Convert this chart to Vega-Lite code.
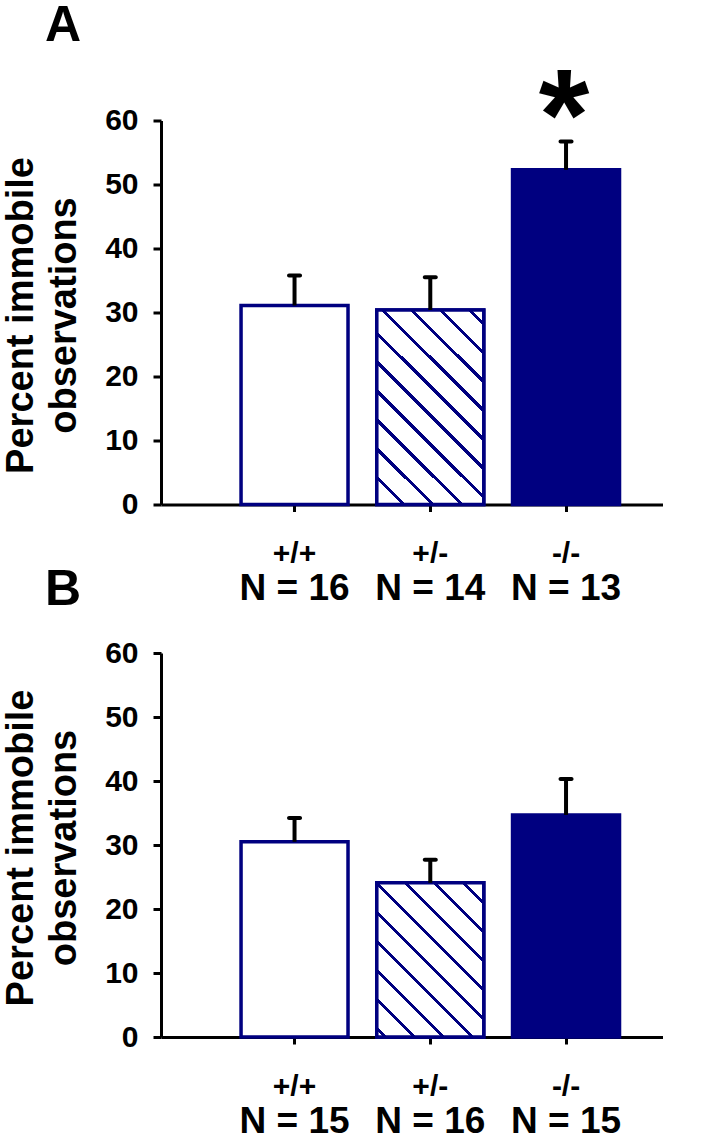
{
  "$schema": "https://vega.github.io/schema/vega-lite/v6.json",
  "padding": {"left": 1, "top": 0.5, "right": 0, "bottom": 0},
  "bounds": "flush",
  "spacing": 148.5,
  "config": {
    "font": "Liberation Sans",
    "view": {"stroke": null},
    "title": {"fontSize": 50, "fontWeight": "bold", "anchor": "start", "frame": "group", "color": "black", "baseline": "alphabetic"}
  },
  "vconcat": [
    {
      "title": {"text": "A", "dx": -116, "offset": 5.5},
      "width": 502,
      "height": 384,
      "data": {"values": [
        {"genotype": "+/+", "nlabel": "N = 16", "mean": 31.1, "upper": 35.8, "sig": ""},
        {"genotype": "+/-", "nlabel": "N = 14", "mean": 30.4, "upper": 35.5, "sig": ""},
        {"genotype": "-/-", "nlabel": "N = 13", "mean": 52.3, "upper": 56.7, "sig": "*"}
      ]},
      "resolve": {"scale": {"x": "independent"}, "axis": {"x": "independent"}},
      "layer": [
        {
          "mark": {"type": "bar", "stroke": "#000080", "strokeWidth": 3.5},
          "encoding": {
            "x": {"field": "genotype", "type": "nominal", "sort": null,
              "scale": {"domain": ["+/+", "+/-", "-/-"], "paddingInner": 0.212, "paddingOuter": 0.455, "align": 0.648},
              "axis": {"title": null, "orient": "bottom", "domainColor": "black", "domainWidth": 3, "tickColor": "black", "tickWidth": 3, "tickSize": 7,
                "labelFontSize": 30, "labelFontWeight": "bold", "labelColor": "black", "labelAngle": 0, "labelPadding": 26.5, "labelBaseline": "top"}},
            "y": {"field": "mean", "type": "quantitative", "scale": {"domain": [0, 60], "nice": false},
              "axis": {"title": ["Percent immobile", "observations"], "values": [0, 10, 20, 30, 40, 50, 60], "grid": false,
                "domainColor": "black", "domainWidth": 3, "tickColor": "black", "tickWidth": 3, "tickSize": 8,
                "labelFontSize": 30, "labelFontWeight": "bold", "labelColor": "black", "labelPadding": 15,
                "titleFontSize": 38, "titleFontWeight": "bold", "titleColor": "black", "titleLineHeight": 43,
                "titleX": -129, "titleY": 194.5, "titleAngle": -90, "titleBaseline": "alphabetic", "titleAlign": "center"}},
            "fill": {"condition": {"test": "datum.genotype === '-/-'", "value": "#000080"}, "value": "white"}
          }
        },
        {
          "transform": [{"filter": "datum.genotype === '+/-'"}],
          "mark": {"type": "bar", "stroke": "#000080", "strokeWidth": 3.5,
            "fill": {"gradient": "linear", "x1": 0, "y1": 1, "x2": 0.6526, "y2": -0.1905, "stops": [
              {"offset": 0, "color": "white"},
              {"offset": 0.0821, "color": "white"}, {"offset": 0.0821, "color": "#000080"}, {"offset": 0.0966, "color": "#000080"}, {"offset": 0.0966, "color": "white"},
              {"offset": 0.1780, "color": "white"}, {"offset": 0.1780, "color": "#000080"}, {"offset": 0.1926, "color": "#000080"}, {"offset": 0.1926, "color": "white"},
              {"offset": 0.2740, "color": "white"}, {"offset": 0.2740, "color": "#000080"}, {"offset": 0.2885, "color": "#000080"}, {"offset": 0.2885, "color": "white"},
              {"offset": 0.3700, "color": "white"}, {"offset": 0.3700, "color": "#000080"}, {"offset": 0.3845, "color": "#000080"}, {"offset": 0.3845, "color": "white"},
              {"offset": 0.4659, "color": "white"}, {"offset": 0.4659, "color": "#000080"}, {"offset": 0.4805, "color": "#000080"}, {"offset": 0.4805, "color": "white"},
              {"offset": 0.5619, "color": "white"}, {"offset": 0.5619, "color": "#000080"}, {"offset": 0.5764, "color": "#000080"}, {"offset": 0.5764, "color": "white"},
              {"offset": 0.6578, "color": "white"}, {"offset": 0.6578, "color": "#000080"}, {"offset": 0.6724, "color": "#000080"}, {"offset": 0.6724, "color": "white"},
              {"offset": 0.7538, "color": "white"}, {"offset": 0.7538, "color": "#000080"}, {"offset": 0.7684, "color": "#000080"}, {"offset": 0.7684, "color": "white"},
              {"offset": 0.8498, "color": "white"}, {"offset": 0.8498, "color": "#000080"}, {"offset": 0.8643, "color": "#000080"}, {"offset": 0.8643, "color": "white"},
              {"offset": 0.9457, "color": "white"}, {"offset": 0.9457, "color": "#000080"}, {"offset": 0.9603, "color": "#000080"}, {"offset": 0.9603, "color": "white"},
              {"offset": 1, "color": "white"}
            ]}},
          "encoding": {
            "x": {"field": "genotype", "type": "nominal", "sort": null,
              "scale": {"domain": ["+/+", "+/-", "-/-"], "paddingInner": 0.212, "paddingOuter": 0.455, "align": 0.648}, "axis": null},
            "y": {"field": "mean", "type": "quantitative"}
          }
        },
        {
          "mark": {"type": "rule", "color": "black", "strokeWidth": 4},
          "encoding": {
            "x": {"field": "nlabel", "type": "nominal", "sort": null,
              "scale": {"domain": ["N = 16", "N = 14", "N = 13"], "paddingInner": 0.212, "paddingOuter": 0.455, "align": 0.648},
              "axis": {"title": null, "orient": "bottom", "domain": false, "ticks": false, "tickSize": 0,
                "labelFontSize": 37, "labelFontWeight": "bold", "labelColor": "black", "labelAngle": 0, "labelPadding": 66, "labelBaseline": "top"}},
            "y": {"field": "mean", "type": "quantitative"},
            "y2": {"field": "upper"}
          }
        },
        {
          "mark": {"type": "tick", "color": "black", "size": 15, "thickness": 4, "cornerRadius": 2, "opacity": 1},
          "encoding": {
            "x": {"field": "nlabel", "type": "nominal", "sort": null,
              "scale": {"domain": ["N = 16", "N = 14", "N = 13"], "paddingInner": 0.212, "paddingOuter": 0.455, "align": 0.648}, "axis": null},
            "y": {"field": "upper", "type": "quantitative"}
          }
        },
        {
          "mark": {"type": "text", "fontSize": 130, "fontWeight": "bold", "color": "black", "baseline": "alphabetic", "align": "center", "dx": -40, "dy": 18.6},
          "encoding": {
            "x": {"field": "nlabel", "type": "nominal", "sort": null,
              "scale": {"domain": ["N = 16", "N = 14", "N = 13"], "paddingInner": 0.212, "paddingOuter": 0.455, "align": 0.648}, "axis": null},
            "y": {"field": "upper", "type": "quantitative"},
            "text": {"field": "sig"}
          }
        }
      ]
    },
    {
      "title": {"text": "B", "dx": -116, "offset": 23},
      "width": 502,
      "height": 384,
      "data": {"values": [
        {"genotype": "+/+", "nlabel": "N = 15", "mean": 30.5, "upper": 34.2},
        {"genotype": "+/-", "nlabel": "N = 16", "mean": 24.1, "upper": 27.7},
        {"genotype": "-/-", "nlabel": "N = 15 ", "mean": 34.7, "upper": 40.3}
      ]},
      "resolve": {"scale": {"x": "independent"}, "axis": {"x": "independent"}},
      "layer": [
        {
          "mark": {"type": "bar", "stroke": "#000080", "strokeWidth": 3.5},
          "encoding": {
            "x": {"field": "genotype", "type": "nominal", "sort": null,
              "scale": {"domain": ["+/+", "+/-", "-/-"], "paddingInner": 0.212, "paddingOuter": 0.455, "align": 0.648},
              "axis": {"title": null, "orient": "bottom", "domainColor": "black", "domainWidth": 3, "tickColor": "black", "tickWidth": 3, "tickSize": 7,
                "labelFontSize": 30, "labelFontWeight": "bold", "labelColor": "black", "labelAngle": 0, "labelPadding": 27, "labelBaseline": "top"}},
            "y": {"field": "mean", "type": "quantitative", "scale": {"domain": [0, 60], "nice": false},
              "axis": {"title": ["Percent immobile", "observations"], "values": [0, 10, 20, 30, 40, 50, 60], "grid": false,
                "domainColor": "black", "domainWidth": 3, "tickColor": "black", "tickWidth": 3, "tickSize": 8,
                "labelFontSize": 30, "labelFontWeight": "bold", "labelColor": "black", "labelPadding": 15,
                "titleFontSize": 38, "titleFontWeight": "bold", "titleColor": "black", "titleLineHeight": 43,
                "titleX": -129, "titleY": 194.5, "titleAngle": -90, "titleBaseline": "alphabetic", "titleAlign": "center"}},
            "fill": {"condition": {"test": "datum.genotype === '-/-'", "value": "#000080"}, "value": "white"}
          }
        },
        {
          "transform": [{"filter": "datum.genotype === '+/-'"}],
          "mark": {"type": "bar", "stroke": "#000080", "strokeWidth": 3.5,
            "fill": {"gradient": "linear", "x1": 0, "y1": 1, "x2": 0.7932, "y2": -0.1434, "stops": [
              {"offset": 0, "color": "white"},
              {"offset": 0.0249, "color": "white"}, {"offset": 0.0249, "color": "#000080"}, {"offset": 0.0417, "color": "#000080"}, {"offset": 0.0417, "color": "white"},
              {"offset": 0.1359, "color": "white"}, {"offset": 0.1359, "color": "#000080"}, {"offset": 0.1527, "color": "#000080"}, {"offset": 0.1527, "color": "white"},
              {"offset": 0.2469, "color": "white"}, {"offset": 0.2469, "color": "#000080"}, {"offset": 0.2637, "color": "#000080"}, {"offset": 0.2637, "color": "white"},
              {"offset": 0.3579, "color": "white"}, {"offset": 0.3579, "color": "#000080"}, {"offset": 0.3748, "color": "#000080"}, {"offset": 0.3748, "color": "white"},
              {"offset": 0.4689, "color": "white"}, {"offset": 0.4689, "color": "#000080"}, {"offset": 0.4858, "color": "#000080"}, {"offset": 0.4858, "color": "white"},
              {"offset": 0.5799, "color": "white"}, {"offset": 0.5799, "color": "#000080"}, {"offset": 0.5968, "color": "#000080"}, {"offset": 0.5968, "color": "white"},
              {"offset": 0.6909, "color": "white"}, {"offset": 0.6909, "color": "#000080"}, {"offset": 0.7078, "color": "#000080"}, {"offset": 0.7078, "color": "white"},
              {"offset": 0.8019, "color": "white"}, {"offset": 0.8019, "color": "#000080"}, {"offset": 0.8188, "color": "#000080"}, {"offset": 0.8188, "color": "white"},
              {"offset": 0.9130, "color": "white"}, {"offset": 0.9130, "color": "#000080"}, {"offset": 0.9298, "color": "#000080"}, {"offset": 0.9298, "color": "white"},
              {"offset": 1, "color": "white"}
            ]}},
          "encoding": {
            "x": {"field": "genotype", "type": "nominal", "sort": null,
              "scale": {"domain": ["+/+", "+/-", "-/-"], "paddingInner": 0.212, "paddingOuter": 0.455, "align": 0.648}, "axis": null},
            "y": {"field": "mean", "type": "quantitative"}
          }
        },
        {
          "mark": {"type": "rule", "color": "black", "strokeWidth": 4},
          "encoding": {
            "x": {"field": "nlabel", "type": "nominal", "sort": null,
              "scale": {"domain": ["N = 15", "N = 16", "N = 15 "], "paddingInner": 0.212, "paddingOuter": 0.455, "align": 0.648},
              "axis": {"title": null, "orient": "bottom", "domain": false, "ticks": false, "tickSize": 0,
                "labelFontSize": 37, "labelFontWeight": "bold", "labelColor": "black", "labelAngle": 0, "labelPadding": 66.3, "labelBaseline": "top"}},
            "y": {"field": "mean", "type": "quantitative"},
            "y2": {"field": "upper"}
          }
        },
        {
          "mark": {"type": "tick", "color": "black", "size": 15, "thickness": 4, "cornerRadius": 2, "opacity": 1},
          "encoding": {
            "x": {"field": "nlabel", "type": "nominal", "sort": null,
              "scale": {"domain": ["N = 15", "N = 16", "N = 15 "], "paddingInner": 0.212, "paddingOuter": 0.455, "align": 0.648}, "axis": null},
            "y": {"field": "upper", "type": "quantitative"}
          }
        }
      ]
    }
  ]
}
